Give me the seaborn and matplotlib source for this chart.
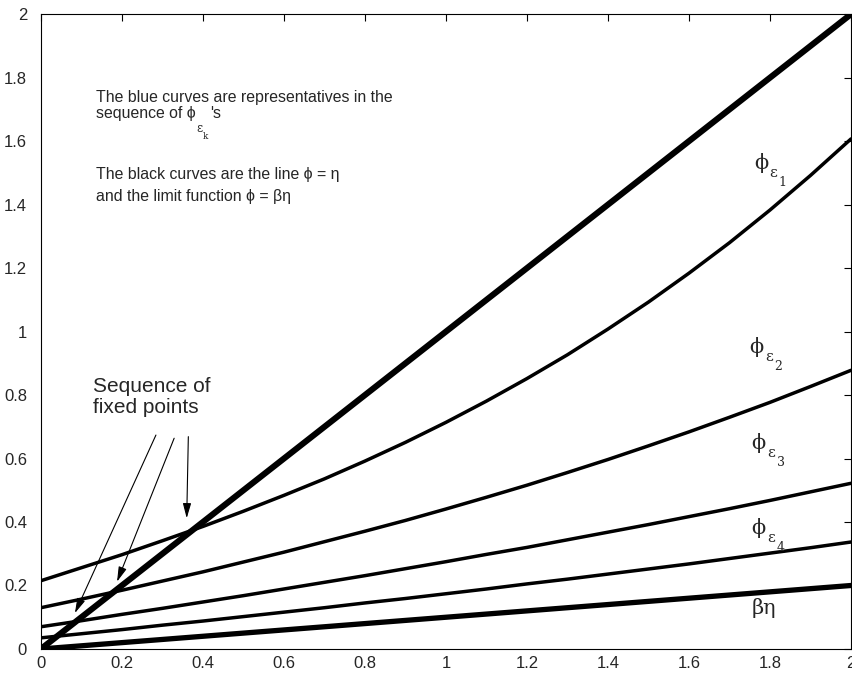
import numpy as np
import pandas as pd
import matplotlib
matplotlib.use("Agg")
import matplotlib.pyplot as plt
import seaborn as sns

# sample points on the eta axis
eta = [0.0, 0.1, 0.2, 0.3, 0.4, 0.5, 0.6, 0.7, 0.8, 0.9, 1.0,
       1.1, 1.2, 1.3, 1.4, 1.5, 1.6, 1.7, 1.8, 1.9, 2.0]

# representatives of the sequence phi_eps_k
phi_eps1 = [0.215, 0.256, 0.297, 0.341, 0.386, 0.434, 0.484, 0.536, 0.592, 0.651, 0.714,
            0.781, 0.852, 0.927, 1.008, 1.093, 1.184, 1.280, 1.383, 1.492, 1.607]
phi_eps2 = [0.130, 0.157, 0.185, 0.214, 0.243, 0.274, 0.305, 0.338, 0.371, 0.405, 0.441,
            0.478, 0.516, 0.556, 0.597, 0.640, 0.684, 0.730, 0.777, 0.827, 0.878]
phi_eps3 = [0.070, 0.089, 0.109, 0.128, 0.148, 0.168, 0.189, 0.210, 0.231, 0.253, 0.275,
            0.298, 0.320, 0.344, 0.368, 0.392, 0.417, 0.442, 0.468, 0.495, 0.522]
phi_eps4 = [0.035, 0.048, 0.061, 0.075, 0.088, 0.102, 0.116, 0.130, 0.145, 0.159, 0.174,
            0.189, 0.205, 0.220, 0.236, 0.252, 0.268, 0.285, 0.302, 0.319, 0.337]

# the line phi = eta and the limit phi = beta*eta
identity = [0.0, 0.1, 0.2, 0.3, 0.4, 0.5, 0.6, 0.7, 0.8, 0.9, 1.0,
            1.1, 1.2, 1.3, 1.4, 1.5, 1.6, 1.7, 1.8, 1.9, 2.0]
beta_eta = [0.0, 0.01, 0.02, 0.03, 0.04, 0.05, 0.06, 0.07, 0.08, 0.09, 0.10,
            0.11, 0.12, 0.13, 0.14, 0.15, 0.16, 0.17, 0.18, 0.19, 0.20]

# curve labels: subscript index and anchor position
sub_index = ["1", "2", "3", "4"]
label_pos = [(1.76, 1.53), (1.75, 0.951), (1.755, 0.649), (1.755, 0.381)]
beta_label_pos = (1.755, 0.129)

ticks = [0, 0.2, 0.4, 0.6, 0.8, 1, 1.2, 1.4, 1.6, 1.8, 2]
tick_text = ["0", "0.2", "0.4", "0.6", "0.8", "1", "1.2", "1.4", "1.6", "1.8", "2"]

sns.set_style("white")
plt.rcParams["font.family"] = ["Liberation Sans", "DejaVu Sans"]
SERIF = ["DejaVu Serif", "Liberation Serif"]

fig = plt.figure(figsize=(8.52, 6.77), dpi=100)
ax = fig.add_axes([0.048, 0.0414, 0.9508, 0.9376])

curves = pd.DataFrame({"eta": eta, "e1": phi_eps1, "e2": phi_eps2,
                       "e3": phi_eps3, "e4": phi_eps4,
                       "id": identity, "beta": beta_eta})

for col in ["e1", "e2", "e3", "e4"]:
    sns.lineplot(data=curves, x="eta", y=col, ax=ax, color="black", lw=2.5)
sns.lineplot(data=curves, x="eta", y="id", ax=ax, color="black", lw=4.4)
sns.lineplot(data=curves, x="eta", y="beta", ax=ax, color="black", lw=3.8)

ax.set_xlim(0, 2)
ax.set_ylim(0, 2)
ax.set_xticks(ticks)
ax.set_xticklabels(tick_text)
ax.set_yticks(ticks)
ax.set_yticklabels(tick_text)
ax.set_xlabel("")
ax.set_ylabel("")
ax.tick_params(direction="in", length=5, width=0.8, labelsize=12,
               top=True, right=True, color="black")
ax.tick_params(axis="x", pad=5)
ax.tick_params(axis="y", pad=10)
for s in ax.spines.values():
    s.set_visible(True)
    s.set_color("black")
    s.set_linewidth(0.8)


def phi_eps(x, y, index, size, family):
    """Draw phi with a doubly dropped subscript epsilon_index."""
    base = ax.annotate("\u03d5", xy=(x, y), xycoords="data", fontsize=size,
                       family=family, ha="left", va="center")
    eps = ax.annotate("\u03b5", xy=(1, 0.5), xycoords=base, xytext=(1.0, -7),
                      textcoords="offset points", fontsize=size * 0.72,
                      family=family, ha="left", va="center")
    idx = ax.annotate(index, xy=(1, 0.5), xycoords=eps, xytext=(1.0, -7),
                      textcoords="offset points", fontsize=size * 0.6,
                      family=family, ha="left", va="center")
    return base, eps, idx


for idx, (x, y) in zip(sub_index, label_pos):
    phi_eps(x, y, idx, 15, SERIF)
ax.text(beta_label_pos[0], beta_label_pos[1], "\u03b2\u03b7", fontsize=15,
        family=SERIF, ha="left", va="center")

# explanatory notes
TXT = 11.4
ax.text(0.137, 1.739, "The blue curves are representatives in the",
        fontsize=TXT, ha="left", va="center")
line2 = ax.text(0.137, 1.688, "sequence of \u03d5", fontsize=TXT,
                ha="left", va="center")
eps_k = ax.annotate("\u03b5", xy=(1, 0.5), xycoords=line2, xytext=(0.5, -11),
                    textcoords="offset points", fontsize=8.5, family=SERIF,
                    ha="left", va="center")
ax.annotate("k", xy=(1, 0.5), xycoords=eps_k, xytext=(0.0, -5.5),
            textcoords="offset points", fontsize=6.5, family=SERIF,
            ha="left", va="center")
ax.annotate("'s", xy=(1, 0), xycoords=(eps_k, line2), xytext=(5, 0),
            textcoords="offset points", fontsize=TXT, ha="left", va="bottom")

ax.text(0.137, 1.496, "The black curves are the line \u03d5 = \u03b7",
        fontsize=TXT, ha="left", va="center")
ax.text(0.137, 1.427, "and the limit function \u03d5 = \u03b2\u03b7",
        fontsize=TXT, ha="left", va="center")

ax.text(0.128, 0.793, "Sequence of\nfixed points", fontsize=15,
        ha="left", va="center", linespacing=1.12)

arrows = [((0.284, 0.674), (0.084, 0.113)),
          ((0.329, 0.664), (0.188, 0.212)),
          ((0.364, 0.669), (0.360, 0.412))]
for start, end in arrows:
    ax.annotate("", xy=end, xytext=start,
                arrowprops=dict(arrowstyle="-|>,head_length=0.9,head_width=0.25",
                                color="black", lw=0.8, shrinkA=0, shrinkB=0))

fig.savefig("out.png", dpi=100)
